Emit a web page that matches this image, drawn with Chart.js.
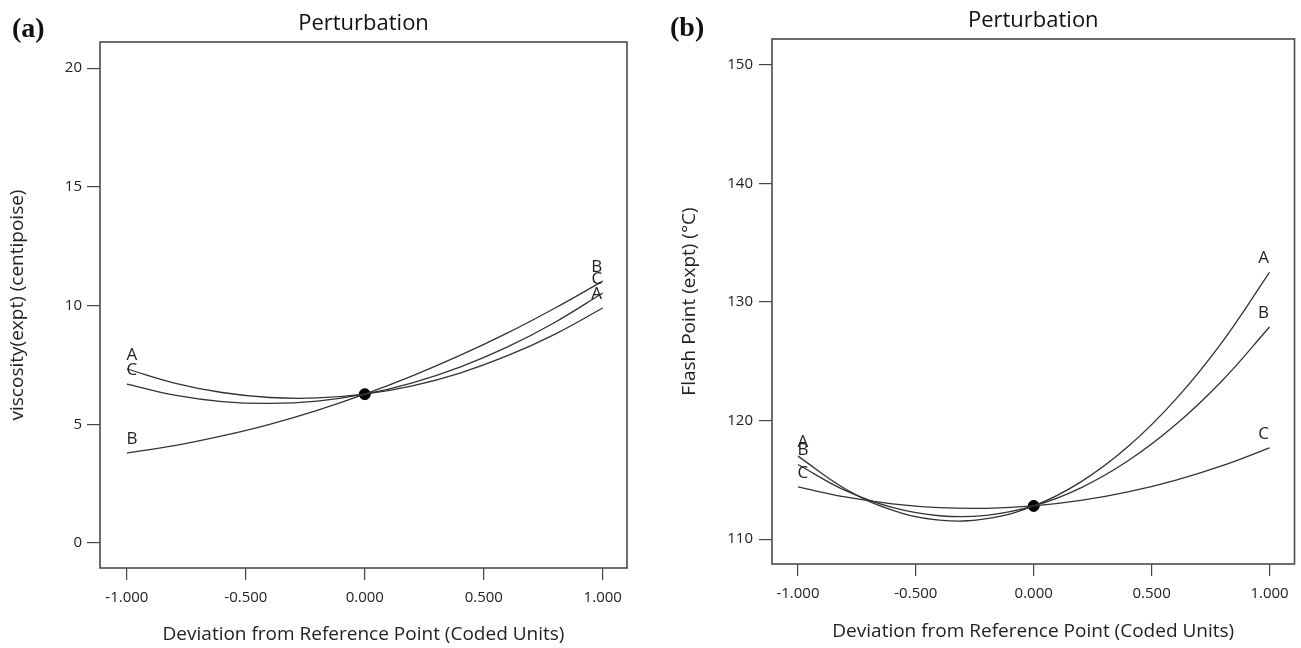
<!DOCTYPE html>
<html>
<head>
<meta charset="utf-8">
<script src="https://cdn.jsdelivr.net/npm/chart.js@4.4.0/dist/chart.umd.min.js"></script>
<style>
  body { margin: 0; background: #fff; width: 1301px; height: 648px; position: relative; overflow: hidden; }
  canvas { position: absolute; top: 0; }
  #chartA { left: 0; }
  #chartB { left: 650px; }
  .tag { position: absolute; font-family: "Liberation Serif", "Times New Roman", serif; font-weight: bold; font-size: 28px; line-height: 28px; color: #111; }
</style>
</head>
<body>
<canvas id="chartA" width="650" height="648"></canvas>
<canvas id="chartB" width="651" height="648"></canvas>
<div class="tag" style="left:12px; top:14px;">(a)</div>
<div class="tag" style="left:670px; top:13px;">(b)</div>
<script>
// coded deviation from the reference point
const xs = [-1, -0.8, -0.6, -0.4, -0.2, 0, 0.2, 0.4, 0.6, 0.8, 1]
const xTicks = [-1, -0.5, 0, 0.5, 1]

// (a) viscosity (centipoise)
const viscA = [7.33, 6.74, 6.34, 6.13, 6.11, 6.27, 6.62, 7.16, 7.89, 8.80, 9.90]
const viscB = [3.79, 4.10, 4.51, 5.00, 5.59, 6.27, 7.04, 7.90, 8.85, 9.90, 11.03]
const viscC = [6.69, 6.23, 5.96, 5.88, 5.98, 6.27, 6.75, 7.41, 8.26, 9.30, 10.53]
const viscRef = 6.27
const viscTicks = [0, 5, 10, 15, 20]

// (b) flash point (°C)
const flashA = [117.0, 114.25, 112.45, 111.61, 111.73, 112.8, 114.83, 117.81, 121.75, 126.65, 132.5]
const flashB = [116.3, 114.11, 112.67, 111.97, 112.01, 112.8, 114.33, 116.61, 119.63, 123.39, 127.9]
const flashC = [114.4, 113.56, 112.98, 112.66, 112.60, 112.8, 113.26, 113.98, 114.96, 116.20, 117.7]
const flashRef = 112.8
const flashTicks = [110, 120, 130, 140, 150]

const FONT = '"Open Sans", "Noto Sans", sans-serif'
const INK = '#222'

// box round the plot area
const frame = {
	id: 'frame',
	beforeDatasetsDraw(chart) {
		const {ctx, chartArea: a} = chart
		ctx.save()
		ctx.strokeStyle = '#4a4a4a'
		ctx.lineWidth = 1.6
		ctx.strokeRect(a.left, a.top, a.right - a.left, a.bottom - a.top)
		ctx.restore()
	}
}

// A / B / C written at both ends of each curve
const endLabels = {
	id: 'endLabels',
	afterDatasetsDraw(chart) {
		const ctx = chart.ctx
		ctx.save()
		ctx.font = '17px ' + FONT
		ctx.fillStyle = INK
		ctx.textAlign = 'center'
		ctx.textBaseline = 'middle'
		chart.data.datasets.forEach((ds, i) => {
			if (!ds.curve) return
			const pts = chart.getDatasetMeta(i).data
			const first = pts[0], last = pts[pts.length - 1]
			ctx.fillText(ds.label, first.x + 5, first.y - 14)
			ctx.fillText(ds.label, last.x - 6, last.y - 14)
		})
		ctx.restore()
	}
}

function curve(label, values) {
	return {
		label: label,
		curve: true,
		data: xs.map((x, i) => ({x: x, y: values[i]})),
		showLine: true,
		borderColor: '#333',
		borderWidth: 1.3,
		tension: 0.4,
		pointRadius: 0
	}
}

function makeChart(id, o) {
	return new Chart(document.getElementById(id), {
		type: 'scatter',
		data: {
			datasets: [
				curve('A', o.a),
				curve('B', o.b),
				curve('C', o.c),
				{
					label: 'ref',
					data: [{x: 0, y: o.ref}],
					pointRadius: 5.5,
					pointBackgroundColor: '#000',
					pointBorderColor: '#000'
				}
			]
		},
		options: {
			responsive: false,
			animation: false,
			devicePixelRatio: 1,
			layout: {padding: {left: 0, right: o.padRight, top: 0, bottom: 0}},
			plugins: {
				legend: {display: false},
				tooltip: {enabled: false},
				title: {
					display: true,
					text: 'Perturbation',
					fullSize: false,
					color: '#111',
					font: {family: FONT, size: 22, weight: 'normal'},
					padding: {top: o.titleTop, bottom: 4.8}
				}
			},
			scales: {
				x: {
					type: 'linear',
					min: o.xMin,
					max: o.xMax,
					afterBuildTicks: s => { s.ticks = xTicks.map(v => ({value: v})) },
					afterFit: s => { s.height = o.xHeight },
					border: {display: false},
					grid: {drawOnChartArea: false, drawTicks: true, tickLength: 12, color: '#444', lineWidth: 1.2},
					ticks: {
						color: INK, font: {family: FONT, size: 15}, padding: 9,
						autoSkip: false, maxRotation: 0,
						callback: v => Number(v).toFixed(3)
					},
					title: {
						display: true,
						text: 'Deviation from Reference Point (Coded Units)',
						color: INK,
						font: {family: FONT, size: 19},
						padding: {top: 0, bottom: o.xTitlePad}
					}
				},
				y: {
					type: 'linear',
					min: o.yMin,
					max: o.yMax,
					afterBuildTicks: s => { s.ticks = o.yTicks.map(v => ({value: v})) },
					afterFit: s => { s.width = o.yWidth },
					border: {display: false},
					grid: {drawOnChartArea: false, drawTicks: true, tickLength: 13, color: '#444', lineWidth: 1.2},
					ticks: {color: INK, font: {family: FONT, size: 15}, padding: o.yTickPad},
					title: {
						display: true,
						text: o.yTitle,
						color: INK,
						font: {family: FONT, size: 19},
						padding: {top: o.yTitlePad, bottom: 0}
					}
				}
			}
		},
		plugins: [frame, endLabels]
	})
}

document.fonts.load('22px "Open Sans"').then(() => {
	makeChart('chartA', {
		a: viscA, b: viscB, c: viscC, ref: viscRef,
		yTicks: viscTicks, yMin: -1.05, yMax: 21.1,
		xMin: -1.113, xMax: 1.102,
		yTitle: 'viscosity(expt) (centipoise)',
		padRight: 23, yWidth: 100, xHeight: 80,
		titleTop: 10.8, xTitlePad: 1.6, yTitlePad: 6.6, yTickPad: 5
	})
	makeChart('chartB', {
		a: flashA, b: flashB, c: flashC, ref: flashRef,
		yTicks: flashTicks, yMin: 107.9, yMax: 152.2,
		xMin: -1.11, xMax: 1.106,
		yTitle: 'Flash Point (expt) (°C)',
		padRight: 5, yWidth: 122, xHeight: 84,
		titleTop: 7.8, xTitlePad: 4.6, yTitlePad: 28.6, yTickPad: 6
	})
})
</script>
</body>
</html>
